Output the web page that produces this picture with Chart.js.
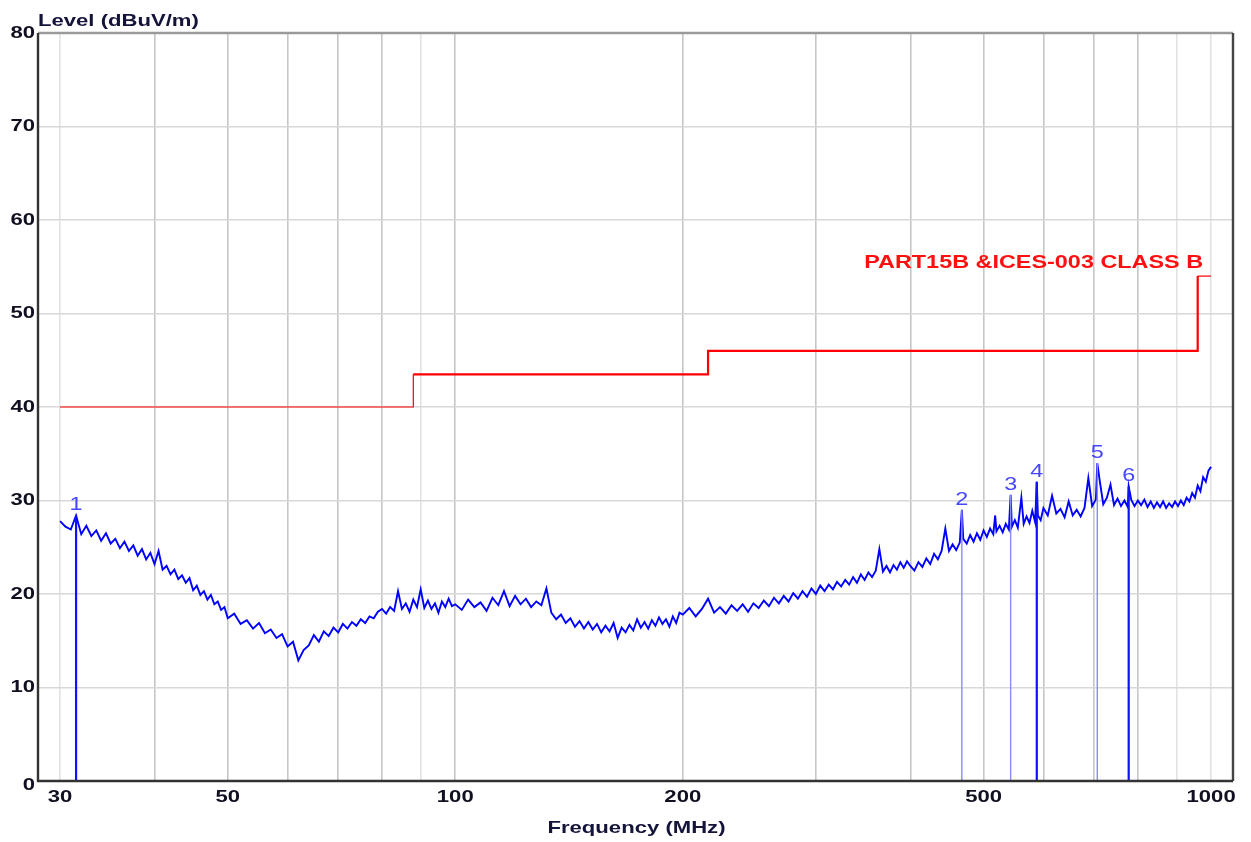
<!DOCTYPE html>
<html><head><meta charset="utf-8">
<script src="https://cdn.jsdelivr.net/npm/chart.js@4.4.0/dist/chart.umd.min.js"></script>
<style>html,body{margin:0;padding:0;background:#fff;}canvas{display:block;}</style>
</head><body>
<canvas id="c" width="1251" height="842"></canvas>
<script>
// ---------- DATA ----------
const traceFreqs = [
  30,30.5,31,31.5,32,32.5,33,33.5,34,34.5,35,35.5,36,36.5,37,37.5,38,38.5,39,39.5,
  40,40.5,41,41.5,42,42.5,43,43.5,44,44.5,45,45.5,46,46.5,47,47.5,48,48.5,49,49.5,
  50,51,52,53,54,55,56,57,58,59,60,61,62,63,64,65,66,67,68,69,
  70,71,72,73,74,75,76,77,78,79,80,81,82,83,84,85,86,87,88,89,
  90,91,92,93,94,95,96,97,98,99,
  100,102,104,106,108,110,112,114,116,118,120,122,124,126,128,130,132,134,136,138,
  140,142,144,146,148,150,152,154,156,158,160,162,164,166,168,170,172,174,176,178,
  180,182,184,186,188,190,192,194,196,198,
  200,204,208,212,216,220,224,228,232,236,240,244,248,252,256,260,264,268,272,276,
  280,284,288,292,296,300,304,308,312,316,320,324,328,332,336,340,344,348,352,356,
  360,364,368,372,376,380,384,388,392,396,
  400,405,410,415,420,425,430,435,440,445,
  450,455,460,465,468,470,475,480,485,490,
  495,500,505,510,515,518,520,525,530,535,
  540,543,545,550,555,561,565,570,575,580,
  585,588,590,595,
  600,608,616,624,632,640,648,656,664,672,
  680,688,696,704,707,712,720,728,736,744,
  752,760,768,776,778,784,792,800,808,816,
  824,832,840,848,856,864,872,880,888,896,
  904,912,920,928,936,944,952,960,968,976,
  984,992,1000
];
const traceLevels = [
  27.8,27.2,26.9,28.4,26.4,27.3,26.2,26.8,25.7,26.5,25.4,25.9,24.9,25.6,24.6,25.2,24.1,24.8,23.7,24.4,
  23.2,24.6,22.6,23.0,22.1,22.6,21.6,22.0,21.2,21.7,20.4,20.9,19.9,20.3,19.4,19.9,18.9,19.2,18.3,18.6,
  17.4,17.9,16.8,17.2,16.3,16.9,15.8,16.2,15.3,15.7,14.4,14.9,12.9,14.0,14.5,15.6,14.9,16.0,15.5,16.4,
  15.9,16.8,16.3,17.0,16.6,17.3,16.9,17.6,17.4,18.1,18.4,17.9,18.6,18.2,20.3,18.4,19.0,18.1,19.4,18.6,
  20.5,18.5,19.3,18.4,19.0,18.0,19.2,18.6,19.5,18.7,
  18.9,18.3,19.4,18.6,19.1,18.2,19.6,18.8,20.3,18.7,19.8,18.9,19.5,18.6,19.2,18.8,20.6,18.0,17.3,17.8,
  16.9,17.4,16.5,17.1,16.3,17.0,16.2,16.8,15.9,16.6,16.0,16.9,15.3,16.4,15.9,16.7,16.1,17.3,16.4,17.0,
  16.3,17.2,16.6,17.5,16.8,17.3,16.5,17.6,16.9,18.0,
  17.8,18.5,17.6,18.4,19.5,18.0,18.6,17.9,18.8,18.2,18.9,18.1,19.0,18.5,19.3,18.7,19.6,19.0,19.8,19.2,
  20.1,19.5,20.3,19.7,20.6,20.0,20.9,20.3,21.0,20.5,21.3,20.8,21.5,21.0,21.8,21.2,22.1,21.5,22.3,21.8,
  22.5,24.8,22.4,23.0,22.3,23.1,22.6,23.4,22.8,23.5,
  23.0,22.5,23.4,22.9,23.8,23.2,24.3,23.7,24.6,27.0,
  24.6,25.3,24.7,25.5,29.0,25.9,25.4,26.3,25.6,26.5,
  25.8,26.8,26.1,27.0,26.4,28.4,26.7,27.3,26.6,27.5,
  26.9,30.6,27.2,27.9,27.1,30.3,27.5,28.3,27.6,28.9,
  27.7,32.0,28.4,27.9,
  29.2,28.4,30.5,28.6,29.1,28.2,29.9,28.4,29.0,28.3,
  29.2,32.4,29.4,30.1,34.0,32.2,29.6,30.3,31.7,29.5,
  30.2,29.4,30.0,29.3,31.5,30.1,29.4,30.0,29.5,30.1,
  29.3,29.9,29.2,29.8,29.3,29.9,29.2,29.7,29.3,29.9,
  29.4,30.0,29.5,30.3,29.9,30.8,30.3,31.6,31.0,32.5,
  32.0,33.2,33.6
];
const limitFreqs  = [30, 88, 216, 960, 1000];
const limitLevels = [40, 43.5, 46, 54, 54];
const limitName = 'PART15B &ICES-003 CLASS B';
const markerIds    = ['1','2','3','4','5','6'];
const markerFreqs  = [31.5, 468, 543, 588, 707, 778];
const markerLevels = [28.4, 29.0, 30.6, 32.0, 34.0, 31.5];
const xGridValues = [30,40,50,60,70,80,90,100,200,300,400,500,600,700,800,900,1000];
const xTickLabels = [30,50,100,200,500,1000];
const yTickValues = [0,10,20,30,40,50,60,70,80];
const yTitle = 'Level (dBuV/m)';
const xTitle = 'Frequency (MHz)';

// ---------- STYLE ----------
const strongMarkers = ['1','4','6'];
const lightXGrid = [30,90,900,1000];
const FONT_B = 'bold 17px "Liberation Sans", Arial, sans-serif';
const STRETCH = 1.3;
const TEXT_COL = '#101020';

function stretchedText(ctx, text, x, y, align, baseline, font, color){
  ctx.save();
  ctx.font = font; ctx.fillStyle = color;
  ctx.textAlign = align; ctx.textBaseline = baseline;
  ctx.translate(x, y); ctx.scale(STRETCH, 1);
  ctx.fillText(text, 0, 0);
  ctx.restore();
}

const datasets = [];
datasets.push({
  label: 'limit',
  data: limitFreqs.map((f,i)=>({x:f, y:limitLevels[i]})),
  borderColor: '#ff0000', borderWidth: 2, stepped: 'before', pointRadius: 0, order: 0,
  segment: { borderWidth: c => (c.p0DataIndex === 0 || c.p0DataIndex === 3) ? 1.2 : 2.2 }
});
markerIds.forEach((id,i)=>{
  const strong = strongMarkers.includes(id);
  datasets.push({
    label: 'marker'+id,
    data: [{x:markerFreqs[i], y:0},{x:markerFreqs[i], y:markerLevels[i]}],
    borderColor: strong ? '#1010ff' : '#8a8aff', borderWidth: strong ? 2.2 : 1.4,
    pointRadius: 0, order: 1
  });
});
datasets.push({
  label: 'trace',
  data: traceFreqs.map((f,i)=>({x:f, y:traceLevels[i]})),
  borderColor: '#0000ff', borderWidth: 1.9, pointRadius: 0, order: 2, tension: 0
});

const textPlugin = {
  id: 'texts',
  afterDraw(chart){
    const ctx = chart.ctx, a = chart.chartArea;
    const xs = chart.scales.x, ys = chart.scales.y;
    ctx.save();
    ctx.lineWidth = 2.4;
    ctx.strokeStyle = '#9a9a9a';
    ctx.beginPath(); ctx.moveTo(a.left, a.top); ctx.lineTo(a.right, a.top); ctx.stroke();
    ctx.strokeStyle = '#444';
    ctx.beginPath(); ctx.moveTo(a.right, a.top); ctx.lineTo(a.right, a.bottom); ctx.stroke();
    ctx.strokeStyle = '#333';
    ctx.beginPath(); ctx.moveTo(a.left, a.top); ctx.lineTo(a.left, a.bottom); ctx.lineTo(a.right, a.bottom); ctx.stroke();
    ctx.restore();
    yTickValues.forEach(v=>{
      stretchedText(ctx, String(v), a.left - 3, ys.getPixelForValue(v) + (v === 0 ? 4 : 0), 'right', 'middle', FONT_B, TEXT_COL);
    });
    xTickLabels.forEach(v=>{
      stretchedText(ctx, String(v), xs.getPixelForValue(v), a.bottom + 16, 'center', 'middle', FONT_B, TEXT_COL);
    });
    stretchedText(ctx, yTitle, a.left, a.top - 7, 'left', 'alphabetic', FONT_B, '#14143a');
    stretchedText(ctx, xTitle, (a.left + a.right)/2 + 1, a.bottom + 52, 'center', 'alphabetic', FONT_B, '#14143a');
    stretchedText(ctx, limitName, xs.getPixelForValue(1000) - 8,
      ys.getPixelForValue(limitLevels[limitLevels.length-1]) - 8, 'right', 'alphabetic',
      'bold 18px "Liberation Sans", Arial, sans-serif', '#ff1010');
    markerIds.forEach((id,i)=>{
      stretchedText(ctx, id, xs.getPixelForValue(markerFreqs[i]),
        ys.getPixelForValue(markerLevels[i]) - 5, 'center', 'alphabetic',
        '18px "Liberation Sans", Arial, sans-serif', '#4646ff');
    });
  }
};

new Chart(document.getElementById('c'), {
  type: 'line',
  data: { datasets },
  options: {
    responsive: false, animation: false, devicePixelRatio: 1,
    layout: { padding: { left: 38, right: 18, top: 33, bottom: 61 } },
    plugins: { legend: { display: false }, tooltip: { enabled: false } },
    scales: {
      x: {
        type: 'logarithmic', min: 28.05, max: 1069,
        afterBuildTicks: s => { s.ticks = xGridValues.map(v=>({value:v})); },
        ticks: { display: false },
        border: { display: false },
        grid: {
          drawTicks: false, lineWidth: 1.6,
          color: c => lightXGrid.includes(c.tick && c.tick.value) ? '#e3e3e3' : '#c6c6c6'
        }
      },
      y: {
        type: 'linear', min: 0, max: 80,
        afterBuildTicks: s => { s.ticks = yTickValues.map(v=>({value:v})); },
        ticks: { display: false },
        border: { display: false },
        grid: {
          drawTicks: false, lineWidth: 1.5,
          color: c => (c.tick && (c.tick.value === 0 || c.tick.value === 80)) ? 'rgba(0,0,0,0)' : '#d8d8d8'
        }
      }
    }
  },
  plugins: [textPlugin]
});
</script>
</body></html>
